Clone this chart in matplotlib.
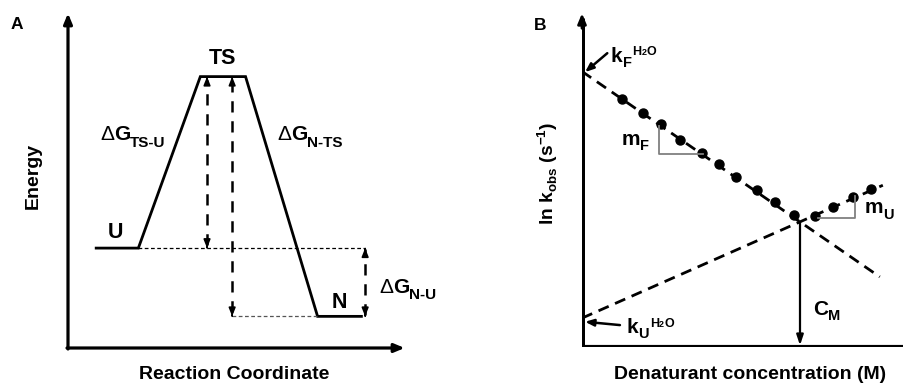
import matplotlib
matplotlib.use("Agg")
import matplotlib.pyplot as plt
import numpy as np

W, H = 904, 385
plt.rcParams['font.family'] = ['Liberation Sans', 'DejaVu Sans']

# ---------------- Panel A data (schematic energy profile) ----------------
reaction_coord = [0.8, 2.1, 3.95, 5.3, 7.45, 8.8]
energy = [3.0, 3.0, 8.15, 8.15, 0.95, 0.95]
E_U, E_TS, E_N = 3.0, 8.15, 0.95
arrow_x_tsu = 4.15
arrow_x_nts = 4.9
arrow_x_nu = 8.87

# ---------------- Panel B data (chevron plot) ----------------
denat_fold = [0.91, 1.39, 1.81, 2.25, 2.76, 3.15, 3.53, 4.02, 4.43, 4.87]
lnk_fold = [7.47, 7.05, 6.72, 6.23, 5.84, 5.51, 5.12, 4.73, 4.37, 3.98]
denat_unf = [5.34, 5.76, 6.22, 6.62]
lnk_unf = [3.95, 4.22, 4.52, 4.76]
lnkf_h2o = 8.3
lnku_h2o = 0.87
c_m = 5.0
lnk_cm = 3.77
fold_end = 6.83
unf_end = 6.9

fig = plt.figure(figsize=(W / 100, H / 100), dpi=100)


def frac_box(x0, y0, x1, y1):
    # pixel box (top-left origin) -> figure fraction rect
    return [x0 / W, 1 - y1 / H, (x1 - x0) / W, (y1 - y0) / H]


# Panel A axes: origin at px (68,348), top 15, right 403
axA = fig.add_axes(frac_box(68, 15, 403, 348))
axA.set_xlim(0, 10)
axA.set_ylim(0, 10)
axA.axis('off')

# Panel B axes: origin at px (582,347), top 15, right 904
axB = fig.add_axes(frac_box(582, 15, 904, 347))
axB.set_xlim(0, (904 - 582) / 43.6)
axB.set_ylim(0, 10)
axB.axis('off')

# ---- Panel A axes lines with arrows
axA.annotate('', xy=(0, 10.05), xytext=(0, -0.03),
             arrowprops=dict(arrowstyle='-|>,head_length=0.6,head_width=0.25',
                             lw=2.3, color='black', shrinkA=0, shrinkB=0),
             annotation_clip=False)
axA.annotate('', xy=(10.05, 0), xytext=(-0.03, 0),
             arrowprops=dict(arrowstyle='-|>,head_length=0.6,head_width=0.25',
                             lw=2.3, color='black', shrinkA=0, shrinkB=0),
             annotation_clip=False)

# energy profile
axA.plot(reaction_coord, energy, color='black', lw=2.0, solid_joinstyle='miter',
         solid_capstyle='butt')

# thin dotted reference lines
axA.plot([reaction_coord[1], reaction_coord[5] + 0.05], [E_U, E_U], color='black',
         lw=0.9, dashes=(3, 2))
axA.plot([arrow_x_nts, reaction_coord[4]], [E_N, E_N], color='#555555', lw=0.9,
         dashes=(3, 2))


def dashed_double(ax, x, y0, y1, lw=1.8, hl=0.5, hw=0.2, dash=(4.5, 3.5)):
    span = y1 - y0
    ax.plot([x, x], [y0 + 0.02 * span, y1 - 0.02 * span], color='black', lw=lw,
            dashes=dash)
    for yy, yfrom in ((y1, y1 - 0.03), (y0, y0 + 0.03)):
        ax.annotate('', xy=(x, yy), xytext=(x, yfrom),
                    arrowprops=dict(arrowstyle='-|>,head_length=%g,head_width=%g' % (hl, hw),
                                    lw=1.2, color='black', shrinkA=0, shrinkB=0),
                    annotation_clip=False)


dashed_double(axA, arrow_x_tsu, E_U, E_TS)
dashed_double(axA, arrow_x_nts, E_N, E_TS)
dashed_double(axA, arrow_x_nu, E_N, E_U)

# ---- Panel B axes
axB.plot([0, 0], [0, 9.9], color='black', lw=3.6, solid_capstyle='butt')
axB.annotate('', xy=(0, 10.05), xytext=(0, 9.6),
             arrowprops=dict(arrowstyle='-|>,head_length=0.6,head_width=0.25',
                             lw=2.0, color='black', shrinkA=0, shrinkB=0),
             annotation_clip=False)
axB.plot([-0.04, 7.4], [0, 0], color='black', lw=3.0, solid_capstyle='butt')

# fit lines
axB.plot([0, fold_end], [lnkf_h2o, lnkf_h2o + (lnk_cm - lnkf_h2o) / c_m * fold_end],
         color='black', lw=2.0, dashes=(4, 2.5))
axB.plot([0, unf_end], [lnku_h2o, lnku_h2o + (lnk_cm - lnku_h2o) / c_m * unf_end],
         color='black', lw=2.0, dashes=(4, 2.5))

# data points
axB.plot(denat_fold, lnk_fold, 'o', color='black', ms=6.5)
axB.plot(denat_unf, lnk_unf, 'o', color='black', ms=6.5)

# slope triangles
axB.plot([1.77, 1.77, 2.78], [6.66, 5.82, 5.82], color='#808080', lw=1.3)
axB.plot([5.42, 6.27, 6.27], [3.89, 3.89, 4.55], color='#808080', lw=1.3)

# C_M arrow
axB.annotate('', xy=(c_m, 0.05), xytext=(c_m, lnk_cm),
             arrowprops=dict(arrowstyle='-|>,head_length=0.6,head_width=0.2',
                             lw=1.6, color='black', shrinkA=0, shrinkB=0),
             annotation_clip=False)

# k arrows
axB.annotate('', xy=(0.07, 8.28), xytext=(0.58, 8.85),
             arrowprops=dict(arrowstyle='-|>,head_length=0.5,head_width=0.2',
                             lw=1.8, color='black', shrinkA=0, shrinkB=0),
             annotation_clip=False)
axB.annotate('', xy=(0.07, 0.76), xytext=(0.87, 0.66),
             arrowprops=dict(arrowstyle='-|>,head_length=0.5,head_width=0.2',
                             lw=1.8, color='black', shrinkA=0, shrinkB=0),
             annotation_clip=False)

# ---------------- Text ----------------
fig.canvas.draw()
renderer = fig.canvas.get_renderer()


def ptext(x, y, s, size, weight='bold', ha='left', va='baseline', rot=0):
    return fig.text(x / W, 1 - y / H, s, fontsize=size, fontweight=weight,
                    ha=ha, va=va, rotation=rot)


def seq(x, y, pieces):
    # pieces: (text, size, weight, dy, gap)
    for s, size, weight, dy, gap in pieces:
        x += gap
        t = ptext(x, y + dy, s, size, weight)
        bb = t.get_window_extent(renderer)
        x += bb.width


ptext(17, 29, 'A', 12.5, ha='center')
ptext(540, 30, 'B', 12.5, ha='center')
ptext(222, 64, 'TS', 15.5, ha='center')
ptext(116, 238, 'U', 15.5, ha='center')
ptext(339, 308, 'N', 15.5, ha='center')

seq(100, 140, [('\u0394', 15, 'normal', 0, 0), ('G', 15, 'bold', 0, 0),
               ('TS-U', 11, 'bold', 7, 0)])
seq(277, 140, [('\u0394', 15, 'normal', 0, 0), ('G', 15, 'bold', 0, 0),
               ('N-TS', 11, 'bold', 7, 0)])
seq(379, 293, [('\u0394', 15, 'normal', 0, 0), ('G', 15, 'bold', 0, 0),
               ('N-U', 11, 'bold', 6, 0)])

ptext(33, 176, 'Energy', 14, ha='center', va='center', rot=90)
ptext(234, 379, 'Reaction Coordinate', 14, ha='center')
ptext(750, 379, 'Denaturant concentration (M)', 14, ha='center')

# rotated y label panel B
fig.text(548 / W, 1 - 173 / H,
         r'ln k$_{\mathregular{obs}}$ (s$^{\mathregular{-1}}$)',
         fontsize=13.8, fontweight='bold', rotation=90, ha='center', va='center')

seq(611, 62, [('k', 15, 'bold', 0, 0), ('F', 10.5, 'bold', 5, 0),
              ('H', 9, 'bold', -7, 1), ('2', 6.5, 'bold', -7, 0), ('O', 9, 'bold', -7, 0)])
seq(627, 333, [('k', 15, 'bold', 0, 0), ('U', 10.5, 'bold', 5, 0),
               ('H', 9, 'bold', -6, 1), ('2', 6.5, 'bold', -6, 0), ('O', 9, 'bold', -6, 0)])
seq(622, 145, [('m', 15, 'bold', 0, 0), ('F', 10.5, 'bold', 5, 0)])
seq(865, 213, [('m', 15, 'bold', 0, 0), ('U', 10.5, 'bold', 6, 0)])
seq(813, 315, [('C', 15, 'bold', 0, 0), ('M', 10.5, 'bold', 5, 0)])

fig.savefig('out.png', dpi=100)
